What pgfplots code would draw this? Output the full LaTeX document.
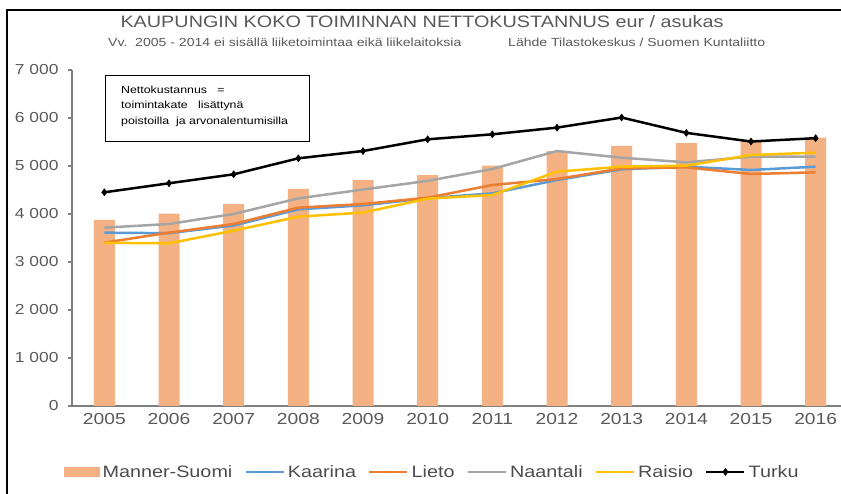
\documentclass[border=0pt]{standalone}
\usepackage{fontspec}
\setmainfont{Liberation Sans}[FakeStretch=1.2]
\usepackage{pgfplots}
\pgfplotsset{compat=1.18}
\definecolor{barc}{HTML}{F4B183}
\definecolor{kaarina}{HTML}{5B9BD5}
\definecolor{lieto}{HTML}{ED7D31}
\definecolor{naantali}{HTML}{A5A5A5}
\definecolor{raisio}{HTML}{FFC000}
\definecolor{txt}{HTML}{595959}
\definecolor{axc}{HTML}{7F7F7F}
\begin{document}
\begin{tikzpicture}
\useasboundingbox (0bp,0bp) rectangle (841bp,494bp);
\begin{scope}[x=1bp,y=1bp]
\draw[line width=1.5bp] (7,0) -- (7,484) -- (845,484);
\node[text=txt, font=\fontsize{16.5bp}{20bp}\selectfont] at (422,472) {KAUPUNGIN KOKO TOIMINNAN NETTOKUSTANNUS eur / asukas};
\node[text=txt, anchor=west, inner sep=0pt, font=\fontsize{11.7bp}{14bp}\selectfont] at (108,452) {Vv.\ \ 2005 - 2014 ei sisällä liiketoimintaa eikä liikelaitoksia};
\node[text=txt, anchor=west, inner sep=0pt, font=\fontsize{11.7bp}{14bp}\selectfont] at (508,452) {Lähde Tilastokeskus / Suomen Kuntaliitto};
\draw[line width=0.8bp, fill=white] (105,353) rectangle (309,419);
\node[anchor=west, inner sep=0pt, align=left, font=\fontsize{10.3bp}{15.6bp}\selectfont] at (121,388) {Nettokustannus \ \ =\\toimintakate \ \ lisättynä\\poistoilla \ ja arvonalentumisilla};
\end{scope}
\begin{axis}[
  at={(72bp,88bp)}, anchor=south west, scale only axis,
  width=776bp, height=336bp,
  xmin=-0.5, xmax=11.5, ymin=0, ymax=7000,
  axis x line*=bottom, axis y line*=left,
  axis line style={draw=axc, line width=1.2bp},
  xtick={0,...,11},
  xticklabels={2005,2006,2007,2008,2009,2010,2011,2012,2013,2014,2015,2016},
  ytick={0,1000,...,7000},
  yticklabels={0,1 000,2 000,3 000,4 000,5 000,6 000,7 000},
  x tick style={draw=none},
  y tick style={draw=axc, line width=1.2bp},
  tick align=outside, major tick length=4bp,
  xticklabel style={font=\fontsize{16bp}{19bp}\selectfont, text=txt},
  yticklabel style={font=\fontsize{14.5bp}{17bp}\selectfont, text=txt, xshift=-6bp},
  /pgf/number format/assume math mode=true,
  clip=false,
  legend columns=6,
  legend style={at={(axis description cs:0.464,-0.196)}, anchor=center, draw=none, fill=none,
    font=\fontsize{16.5bp}{19bp}\selectfont, text=txt!85!black,
    /tikz/every odd column/.append style={column sep=1bp},
    /tikz/every even column/.append style={column sep=10bp}},
  legend image code/.code={\draw[mark repeat=2,mark phase=2,#1] plot coordinates {(0bp,0bp) (19bp,0bp) (38bp,0bp)};},
  every axis plot/.append style={line width=2.5bp},
]
\addplot[ybar, bar width=21bp, fill=barc, draw=none,
  legend image code/.code={\fill[barc] (0bp,-5bp) rectangle (36bp,5bp);}]
  coordinates {(0,3875) (1,4006) (2,4208) (3,4521) (4,4708) (5,4812) (6,5006) (7,5312) (8,5417) (9,5479) (10,5521) (11,5590)};
\addlegendentry{Manner-Suomi}
\addplot[kaarina, no marks] coordinates {(0,3611) (1,3600) (2,3760) (3,4097) (4,4180) (5,4330) (6,4430) (7,4708) (8,4931) (9,4986) (10,4917) (11,4986)};
\addlegendentry{Kaarina}
\addplot[lieto, no marks] coordinates {(0,3403) (1,3611) (2,3792) (3,4132) (4,4208) (5,4340) (6,4604) (7,4729) (8,4950) (9,4972) (10,4833) (11,4868)};
\addlegendentry{Lieto}
\addplot[naantali, no marks] coordinates {(0,3715) (1,3792) (2,4000) (3,4326) (4,4510) (5,4690) (6,4937) (7,5312) (8,5173) (9,5076) (10,5194) (11,5194)};
\addlegendentry{Naantali}
\addplot[raisio, no marks] coordinates {(0,3400) (1,3389) (2,3653) (3,3944) (4,4030) (5,4320) (6,4396) (7,4882) (8,4986) (9,5007) (10,5229) (11,5278)};
\addlegendentry{Raisio}
\addplot[black, mark=diamond*, mark size=3.5bp, mark options={solid, line width=0.5bp}] coordinates {(0,4452) (1,4640) (2,4827) (3,5160) (4,5312) (5,5556) (6,5660) (7,5800) (8,6010) (9,5690) (10,5510) (11,5580)};
\addlegendentry{Turku}
\end{axis}
\end{tikzpicture}
\end{document}
